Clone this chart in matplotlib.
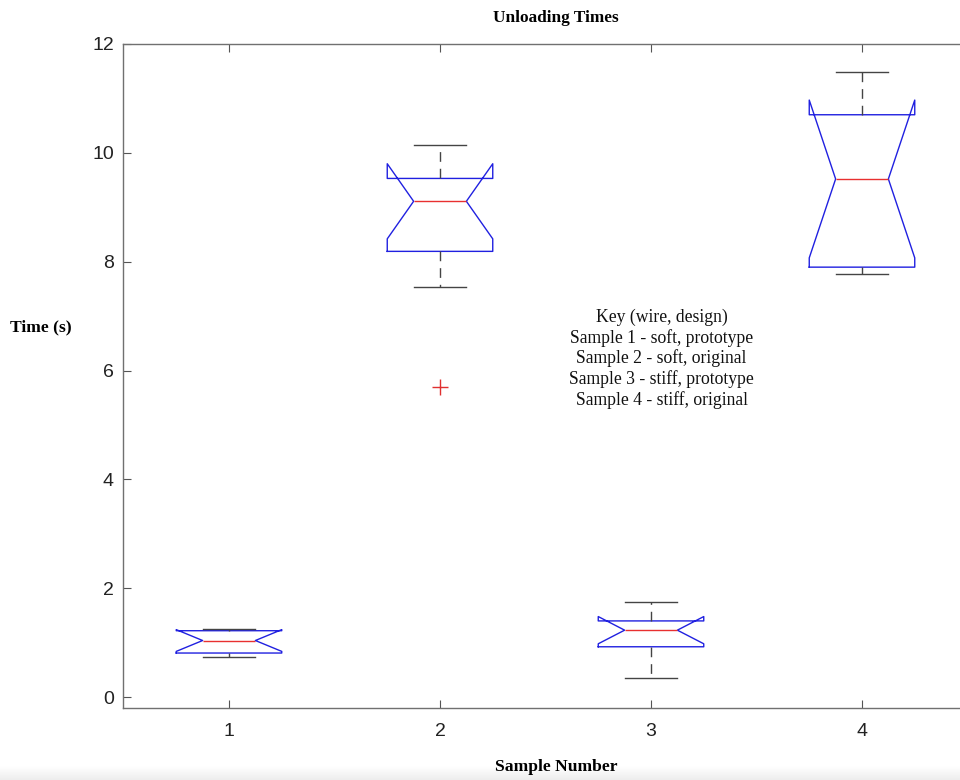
import matplotlib
matplotlib.use("Agg")
import matplotlib.pyplot as plt
import numpy as np

# ---- data ----
samples = [1, 2, 3, 4]
tick_labels = ["1", "2", "3", "4"]
q1 = [0.81, 8.19, 0.925, 7.90]
med = [1.04, 9.11, 1.23, 9.52]
q3 = [1.22, 9.53, 1.40, 10.70]
whis_lo = [0.735, 7.53, 0.35, 7.78]
whis_hi = [1.26, 10.15, 1.74, 11.49]
ci_lo = [0.84, 8.42, 0.98, 8.07]
ci_hi = [1.24, 9.80, 1.48, 10.97]
outliers = [[], [5.70], [], []]

key_lines = ["Key (wire, design)",
             "Sample 1 - soft, prototype",
             "Sample 2 - soft, original",
             "Sample 3 - stiff, prototype",
             "Sample 4 - stiff, original"]

serif = ["Liberation Serif", "DejaVu Serif"]
sans = ["Liberation Sans Narrow", "Liberation Sans", "DejaVu Sans"]

fig = plt.figure(figsize=(9.6, 7.8), dpi=100)
W, H = 960, 780
left, right, top, bottom = 123.5, 967.5, 44, 708
ax = fig.add_axes([left / W, 1 - bottom / H, (right - left) / W, (bottom - top) / H])

stats = []
for i in range(len(samples)):
    stats.append(dict(med=med[i], q1=q1[i], q3=q3[i], whislo=whis_lo[i], whishi=whis_hi[i],
                      cilo=ci_lo[i], cihi=ci_hi[i], fliers=outliers[i]))

ax.bxp(stats, positions=samples, widths=0.5, shownotches=True,
       boxprops=dict(color="#2020e0", linewidth=1.0),
       medianprops=dict(color="#e83030", linewidth=1.0),
       whiskerprops=dict(color="#444444", linewidth=1.0, linestyle=(0, (7, 5))),
       capprops=dict(color="#444444", linewidth=1.0),
       flierprops=dict(marker="+", markeredgecolor="#e03030", markersize=11, markeredgewidth=1.0,
                       linestyle="none"))

ax.set_xlim(0.5, 4.5)
ax.set_ylim(-0.2, 12)
ax.set_xticks(samples)
ax.set_xticklabels(tick_labels)
ax.set_yticks([0, 2, 4, 6, 8, 10, 12])
ax.tick_params(direction="in", length=6, width=0.8, color="#555555", labelsize=14,
               top=True, right=True, labelcolor="#222222")
ax.tick_params(axis="x", pad=11)
ax.tick_params(axis="y", pad=7)
for lab in ax.get_xticklabels() + ax.get_yticklabels():
    lab.set_family(sans)
for s in ax.spines.values():
    s.set_color("#707070")
    s.set_linewidth(1.0)

fig.text(556 / W, 1 - 18 / H, "Unloading Times", ha="center", va="center",
         family=serif, fontweight="bold", fontsize=12.4)
fig.text(556 / W, 1 - 767 / H, "Sample Number", ha="center", va="center",
         family=serif, fontweight="bold", fontsize=12.6)
fig.text(41 / W, 1 - 327 / H, "Time (s)", ha="center", va="center",
         family=serif, fontweight="bold", fontsize=12.6)

ax.text(3.05, 6.22, "\n".join(key_lines), ha="center", va="center",
        family=serif, fontsize=12.7, linespacing=1.2, color="#111111")

# faint screenshot shading at the very bottom
gax = fig.add_axes([0, 0, 1, 14 / H])
grad = np.linspace(1.0, 0.93, 20).reshape(-1, 1)
gax.imshow(np.dstack([grad, grad, grad]), aspect="auto", extent=[0, 1, 0, 1])
gax.axis("off")

fig.savefig("out.png", dpi=100)
